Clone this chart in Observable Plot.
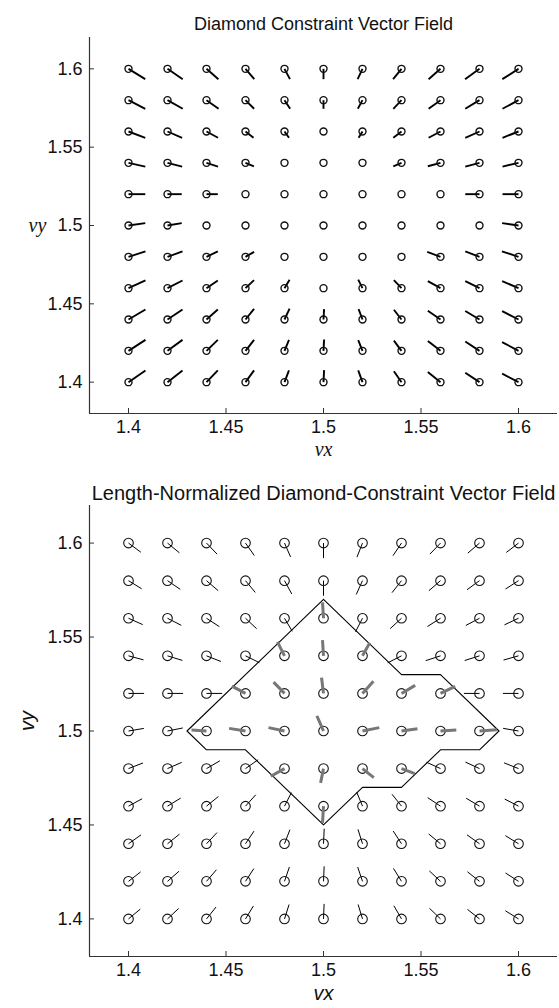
<!DOCTYPE html>
<html><head><meta charset="utf-8">
<script src="https://cdn.jsdelivr.net/npm/d3@7"></script>
<script src="https://cdn.jsdelivr.net/npm/@observablehq/plot@0.6"></script>
<style>html,body{margin:0;padding:0;background:#fff;} svg{display:block;}</style>
</head><body><div id="chart"></div>
<script>
// ---- data ----
const vxGrid = [1.40,1.42,1.44,1.46,1.48,1.50,1.52,1.54,1.56,1.58,1.60];
const vyGrid = [1.60,1.58,1.56,1.54,1.52,1.50,1.48,1.46,1.44,1.42,1.40];
// vector components of the top field, in thousandths of a unit (rows follow vyGrid)
const uTop = [
  [8.6, 7.8, 6.1, 4.5, 2.8, 0, -2.5, -4.3, -6.1, -7.4, -8.3],
  [8.6, 7.8, 6.2, 4.4, 2.9, 0, -2.4, -4.2, -6.1, -7.3, -8.2],
  [8.6, 7.5, 5.9, 4.1, 2.3, 0, -2.0, -4.2, -6.1, -7.3, -8.2],
  [8.6, 7.5, 5.9, 4.3, 0, 0, 0, -4.2, -6.5, -7.3, -8.2],
  [8.6, 7.3, 5.8, 0, 0, 0, 0, 0, 0, -7.3, -8.2],
  [8.6, 7.3, 0, 0, 0, 0, 0, 0, 0, 0, -8.4],
  [8.7, 7.7, 5.8, 4.4, 0, 0, 0, 0, -6.8, -7.3, -8.5],
  [8.7, 7.7, 5.8, 4.4, 2.6, 0, -2.2, -3.9, -6.5, -7.3, -8.4],
  [8.7, 7.7, 5.8, 4.4, 2.6, 0.3, -2.0, -3.9, -6.5, -7.3, -8.4],
  [8.7, 7.7, 5.8, 4.4, 2.3, 0.3, -2.2, -3.9, -6.5, -7.3, -8.4],
  [8.7, 7.7, 5.8, 4.4, 2.3, 0.3, -2.2, -3.9, -6.5, -7.3, -8.4]
];
const vTop = [
  [-6.6,-6.6,-6.6,-6.6,-6.6,-6.6,-6.6,-6.6,-6.6,-6.6,-6.6],
  [-5.5,-5.5,-5.5,-5.5,-5.5,-5.5,-5.5,-5.5,-5.5,-5.5,-5.5],
  [-4.0,-4.0,-4.0,-4.0,-4.0,0,-4.0,-4.0,-4.0,-4.0,-4.0],
  [-2.4,-2.4,-2.4,-2.2,0,0,0,-2.2,-2.2,-2.4,-2.4],
  [0,0,0,0,0,0,0,0,0,0,0],
  [1.5,1.5,0,0,0,0,0,0,0,0,1.5],
  [3.5,3.5,3.5,3.2,0,0,0,0,3.2,3.5,3.5],
  [4.9,4.9,4.9,5.1,5.3,0,5.5,5.1,4.5,4.5,4.5],
  [6.4,6.4,6.4,6.8,7.0,6.6,6.6,6.2,5.6,5.4,5.4],
  [7.0,7.0,7.0,7.0,7.0,7.2,6.8,6.5,6.3,6.0,5.6],
  [7.5,7.5,7.5,7.5,7.5,7.7,7.5,7.0,6.5,6.0,5.4]
];
// grey vectors inside the diamond (bottom panel), thousandths
const grayX = [1.50, 1.48,1.50,1.52, 1.46,1.48,1.50,1.52,1.54,1.56, 1.44,1.46,1.48,1.50,1.52,1.54,1.56,1.58, 1.48,1.50,1.52,1.54, 1.50];
const grayY = [1.56, 1.54,1.54,1.54, 1.52,1.52,1.52,1.52,1.52,1.52, 1.50,1.50,1.50,1.50,1.50,1.50,1.50,1.50, 1.48,1.48,1.48,1.48, 1.46];
const grayU = [-0.5, -3.6,-0.5,3.7, -7.0,-5.6,-1.0,5.6,7.0,7.5, -7.7,-8.4,-8.2,-3.4,8.6,8.2,8.1,8.9, -7.0,-1.5,5.8,6.8, -0.5];
const grayV = [8.4, 7.4,8.4,6.9, 3.9,6.0,8.4,6.5,4.3,3.7, 0.5,1.4,1.8,8.0,1.8,1.2,0.5,0.7, -4.1,-7.6,-4.8,-2.7, -8.9];
// diamond constraint outline
const diamondX = [1.50,1.54,1.56,1.59,1.58,1.56,1.54,1.52,1.50,1.46,1.44,1.43,1.50];
const diamondY = [1.57,1.53,1.53,1.50,1.49,1.49,1.47,1.47,1.45,1.49,1.49,1.50,1.57];
const tickValues = [1.4,1.45,1.5,1.55,1.6];
const tickLabels = ["1.4","1.45","1.5","1.55","1.6"];
const axisDomain = [1.38,1.62];
const titles = ["Diamond Constraint Vector Field","Length-Normalized Diamond-Constraint Vector Field"];
const xLabel = "vx", yLabel = "vy";
const UNIT = 0.001;
const NORM_LEN = 8.0; // normalized length, thousandths

// ---- derived tables ----
const cells = [];
vyGrid.forEach((y, r) => vxGrid.forEach((x, c) => cells.push({x, y, u: uTop[r][c] * UNIT, v: vTop[r][c] * UNIT})));
const moving = cells.filter(d => d.u !== 0 || d.v !== 0);
const normed = moving.map(d => { const m = Math.hypot(d.u, d.v); return {x: d.x, y: d.y, u: d.u / m * NORM_LEN * UNIT, v: d.v / m * NORM_LEN * UNIT}; });
const grays = grayX.map((x, i) => ({x, y: grayY[i], u: grayU[i] * UNIT, v: grayV[i] * UNIT}));
const diamond = diamondX.map((x, i) => ({x, y: diamondY[i]}));

const W = 559, ML = 89, MR = 2;
const FONT = "'Liberation Sans', Arial, Helvetica, sans-serif";
const AX = "#333";

function axes(innerW, innerH) {
  return [
    Plot.ruleY([axisDomain[0]], {stroke: AX, strokeWidth: 1.2}),
    Plot.ruleX([axisDomain[0]], {stroke: AX, strokeWidth: 1.2}),
    Plot.ruleX(tickValues, {x: d => d, insetTop: innerH - 5, stroke: AX, strokeWidth: 1}),
    Plot.ruleY(tickValues, {y: d => d, insetRight: innerW - 5, stroke: AX, strokeWidth: 1}),
    Plot.text(tickValues, {x: d => d, frameAnchor: "bottom", dy: 19, text: (d, i) => tickLabels[i], fontSize: 18, fill: "#111"}),
    Plot.text(tickValues, {y: d => d, frameAnchor: "left", dx: -7, textAnchor: "end", text: (d, i) => tickLabels[i], fontSize: 18, fill: "#111"})
  ];
}

// ---- top panel ----
const H1 = 470, MT1 = 37, MB1 = 57;
const topPlot = Plot.plot({
  width: W, height: H1, marginLeft: ML, marginRight: MR, marginTop: MT1, marginBottom: MB1,
  style: {fontFamily: FONT, background: "#fff"},
  x: {domain: axisDomain, axis: null},
  y: {domain: axisDomain, axis: null},
  marks: [
    ...axes(W - ML - MR, H1 - MT1 - MB1),
    Plot.link(moving, {x1: "x", y1: "y", x2: d => d.x + d.u, y2: d => d.y + d.v, stroke: "#000", strokeWidth: 1.9}),
    Plot.dot(cells, {x: "x", y: "y", r: 3.5, stroke: "#111", strokeWidth: 1.4, fill: "none"}),
    Plot.text([titles[0]], {frameAnchor: "top", dy: -20, fontSize: 18, fill: "#111"}),
    Plot.text([xLabel], {frameAnchor: "bottom", dy: 42, fontSize: 20, fontStyle: "italic", fontFamily: "'Liberation Serif', 'Times New Roman', serif", fill: "#111"}),
    Plot.text([yLabel], {frameAnchor: "left", dx: -61, fontSize: 20, fontStyle: "italic", fontFamily: "'Liberation Serif', 'Times New Roman', serif", fill: "#111"})
  ]
});

// ---- bottom panel ----
const H2 = 538, MT2 = 35, MB2 = 52;
const bottomPlot = Plot.plot({
  width: W, height: H2, marginLeft: ML, marginRight: MR, marginTop: MT2, marginBottom: MB2,
  style: {fontFamily: FONT, background: "#fff"},
  x: {domain: axisDomain, axis: null},
  y: {domain: axisDomain, axis: null},
  marks: [
    ...axes(W - ML - MR, H2 - MT2 - MB2),
    Plot.line(diamond, {x: "x", y: "y", stroke: "#000", strokeWidth: 1.1}),
    Plot.link(normed, {x1: "x", y1: "y", x2: d => d.x + d.u, y2: d => d.y + d.v, stroke: "#000", strokeWidth: 1}),
    Plot.dot(cells, {x: "x", y: "y", r: 4.8, stroke: "#111", strokeWidth: 1.1, fill: "none"}),
    Plot.link(grays, {x1: "x", y1: "y", x2: d => d.x + d.u, y2: d => d.y + d.v, stroke: "#777", strokeWidth: 3}),
    Plot.text([titles[1]], {frameAnchor: "top", dy: -20, fontSize: 20, fill: "#111"}),
    Plot.text([xLabel], {frameAnchor: "bottom", dy: 43, fontSize: 20, fontStyle: "italic", fill: "#111"}),
    Plot.text([yLabel], {frameAnchor: "left", dx: -62, rotate: -90, fontSize: 20, fontStyle: "italic", fill: "#111"})
  ]
});

const host = document.getElementById("chart");
host.appendChild(topPlot);
host.appendChild(bottomPlot);
</script>
</body></html>
